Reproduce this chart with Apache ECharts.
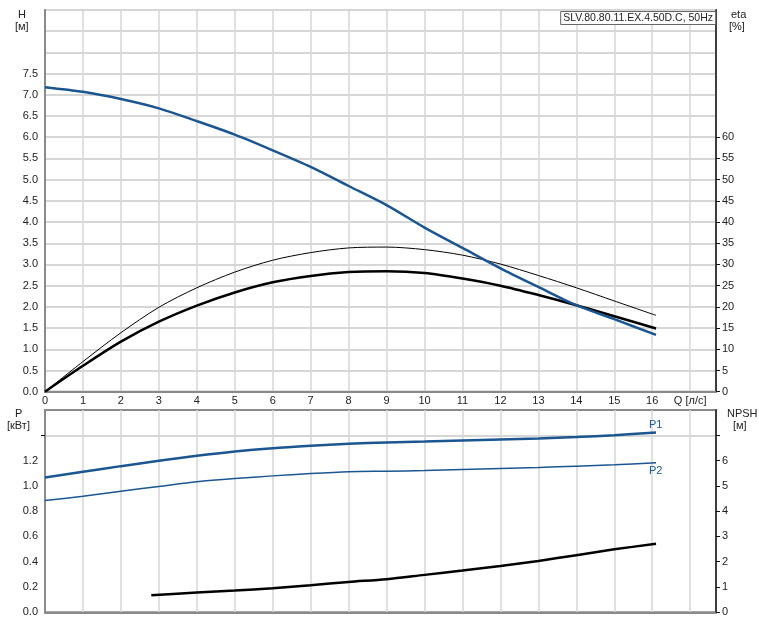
<!DOCTYPE html>
<html><head><meta charset="utf-8">
<script src="https://cdn.jsdelivr.net/npm/echarts@6/dist/echarts.min.js"></script>
<style>html,body{margin:0;padding:0;background:#fff}#c{width:759px;height:623px}</style>
</head><body><div id="c"></div>
<script>
// ---- data ----
const qTop   = [0,1,2,3,4,5,6,7,8,9,10,11,12,13,14,15,16.1];
const headH  = [7.18,7.07,6.90,6.68,6.38,6.06,5.69,5.30,4.85,4.40,3.87,3.39,2.91,2.47,2.04,1.71,1.34];
const etaA   = [0,6.1,11.8,16.5,20.3,23.4,25.8,27.3,28.2,28.4,28.0,26.7,25.0,22.8,20.4,17.8,14.9];
const etaB   = [0,7.1,13.9,19.9,24.5,28.2,31.0,32.8,33.9,34.1,33.5,32.2,30.1,27.4,24.5,21.4,18.0];
const powP1  = [1.066,1.111,1.156,1.198,1.238,1.272,1.298,1.317,1.333,1.343,1.351,1.359,1.367,1.375,1.386,1.401,1.422];
const powP2  = [0.884,0.918,0.958,0.995,1.032,1.058,1.079,1.097,1.111,1.116,1.121,1.129,1.137,1.145,1.156,1.166,1.182];
const qNpsh  = [2.8,4,5,6,7,8,9,10,11,12,13,14,15,16.1];
const npsh   = [0.67,0.78,0.86,0.95,1.07,1.20,1.31,1.48,1.65,1.83,2.03,2.26,2.49,2.71];
const qTickLabels = ['0','1','2','3','4','5','6','7','8','9','10','11','12','13','14','15','16','Q [л/с]'];
const hLabelMax = 7.5, etaLabelMax = 60, pLabelMax = 1.2, npshLabelMax = 6;
const titleText = 'SLV.80.80.11.EX.4.50D.C, 50Hz';

const pair = (xs, ys) => xs.map((x, i) => [x, ys[i]]);
const FONT = 'Liberation Sans, Arial, sans-serif';
const BLUE = '#1b5690';
const GRID = '#d6d6d6';
const AX = '#8a8a8a';
const lbl = {fontFamily: FONT, fontSize: 11, color: '#222'};

const range = (a, b, s) => { const r = []; for (let v = a; v <= b + 1e-9; v += s) r.push(+v.toFixed(4)); return r; };

const chart = echarts.init(document.getElementById('c'), null, {renderer: 'canvas'});
const xCommon = {
  type: 'value', min: 0, max: 17.68, interval: 1,
  axisLine: {show: true, onZero: false, lineStyle: {color: AX, width: 2}},
  axisTick: {show: false},
  splitLine: {show: true, lineStyle: {color: GRID, width: 1.5}}
};
const curve = {type: 'line', smooth: 0.3, showSymbol: false};
chart.setOption({
  animation: false,
  textStyle: {fontFamily: FONT},
  title: {
    text: titleText, right: 43, top: 11,
    backgroundColor: '#fff', borderColor: '#666', borderWidth: 1,
    padding: [2, 3, 1, 3],
    textStyle: {fontFamily: FONT, fontSize: 10.5, fontWeight: 'normal', color: '#222'}
  },
  grid: [
    {left: 45, right: 43, top: 10, height: 381.7, show: true, borderColor: AX, borderWidth: 2, backgroundColor: 'transparent'},
    {left: 45, right: 43, top: 410, height: 202.3, show: true, borderColor: AX, borderWidth: 2, backgroundColor: 'transparent'}
  ],
  xAxis: [
    Object.assign({}, xCommon, {gridIndex: 0,
      axisLabel: Object.assign({}, lbl, {margin: 4, showMaxLabel: false,
        formatter: v => (Number.isInteger(v) && v < qTickLabels.length) ? qTickLabels[v] : ''})}),
    Object.assign({}, xCommon, {gridIndex: 1, axisLabel: {show: false}})
  ],
  yAxis: [
    {type: 'value', gridIndex: 0, min: 0, max: 9, interval: 0.5, position: 'left',
     axisLine: {show: true, lineStyle: {color: AX, width: 2}}, axisTick: {show: false},
     axisLabel: Object.assign({}, lbl, {margin: 7, formatter: v => v <= hLabelMax + 1e-9 ? v.toFixed(1) : ''}),
     splitLine: {show: true, lineStyle: {color: GRID, width: 2}}},
    {type: 'value', gridIndex: 0, min: 0, max: 90, interval: 5, position: 'right',
     axisLine: {show: true, lineStyle: {color: '#111', width: 1.5}},
     axisTick: {show: true, length: 4, lineStyle: {color: '#111'}, customValues: range(0, etaLabelMax, 5)},
     axisLabel: Object.assign({}, lbl, {margin: 6, formatter: v => v <= etaLabelMax ? String(v) : ''}),
     splitLine: {show: false}},
    {type: 'value', gridIndex: 1, min: 0, max: 1.6, interval: 0.2, position: 'left',
     axisLine: {show: true, lineStyle: {color: AX, width: 2}},
     axisTick: {show: true, length: 4, lineStyle: {color: '#111'}, customValues: [1.4]},
     axisLabel: Object.assign({}, lbl, {margin: 7, formatter: v => v <= pLabelMax + 1e-9 ? v.toFixed(1) : ''}),
     splitLine: {show: true, lineStyle: {color: GRID, width: 2}}},
    {type: 'value', gridIndex: 1, min: 0, max: 8, interval: 1, position: 'right',
     axisLine: {show: true, lineStyle: {color: '#111', width: 1.5}},
     axisTick: {show: true, length: 4, lineStyle: {color: '#111'}, customValues: range(0, 7, 1)},
     axisLabel: Object.assign({}, lbl, {margin: 6, formatter: v => v <= npshLabelMax ? String(v) : ''}),
     splitLine: {show: false}}
  ],
  graphic: [
    {type: 'text', left: 18, top: 9, style: {text: 'H', font: '11px ' + FONT, fill: '#222'}},
    {type: 'text', left: 15, top: 21, style: {text: '[м]', font: '11px ' + FONT, fill: '#222'}},
    {type: 'text', left: 731, top: 9, style: {text: 'eta', font: '11px ' + FONT, fill: '#222'}},
    {type: 'text', left: 729, top: 21, style: {text: '[%]', font: '11px ' + FONT, fill: '#222'}},
    {type: 'text', left: 15, top: 408, style: {text: 'P', font: '11px ' + FONT, fill: '#222'}},
    {type: 'text', left: 7, top: 420, style: {text: '[кВт]', font: '11px ' + FONT, fill: '#222'}},
    {type: 'text', left: 727, top: 408, style: {text: 'NPSH', font: '11px ' + FONT, fill: '#222'}},
    {type: 'text', left: 733, top: 420, style: {text: '[м]', font: '11px ' + FONT, fill: '#222'}}
  ],
  series: [
    Object.assign({}, curve, {xAxisIndex: 0, yAxisIndex: 0, data: pair(qTop, headH),
     lineStyle: {color: BLUE, width: 2.5}, z: 5}),
    Object.assign({}, curve, {xAxisIndex: 0, yAxisIndex: 1, data: pair(qTop, etaA),
     lineStyle: {color: '#000', width: 2.5}, z: 4}),
    Object.assign({}, curve, {xAxisIndex: 0, yAxisIndex: 1, data: pair(qTop, etaB),
     lineStyle: {color: '#000', width: 1}, z: 4}),
    Object.assign({}, curve, {xAxisIndex: 1, yAxisIndex: 2, data: pair(qTop, powP1),
     lineStyle: {color: BLUE, width: 2.5},
     endLabel: {show: true, formatter: 'P1', distance: 0, offset: [-7, -8], color: BLUE, fontFamily: FONT, fontSize: 11}}),
    Object.assign({}, curve, {xAxisIndex: 1, yAxisIndex: 2, data: pair(qTop, powP2),
     lineStyle: {color: BLUE, width: 1.5},
     endLabel: {show: true, formatter: 'P2', distance: 0, offset: [-7, 8], color: BLUE, fontFamily: FONT, fontSize: 11}}),
    Object.assign({}, curve, {xAxisIndex: 1, yAxisIndex: 3, data: pair(qNpsh, npsh),
     lineStyle: {color: '#000', width: 2.5}})
  ]
});
</script></body></html>
